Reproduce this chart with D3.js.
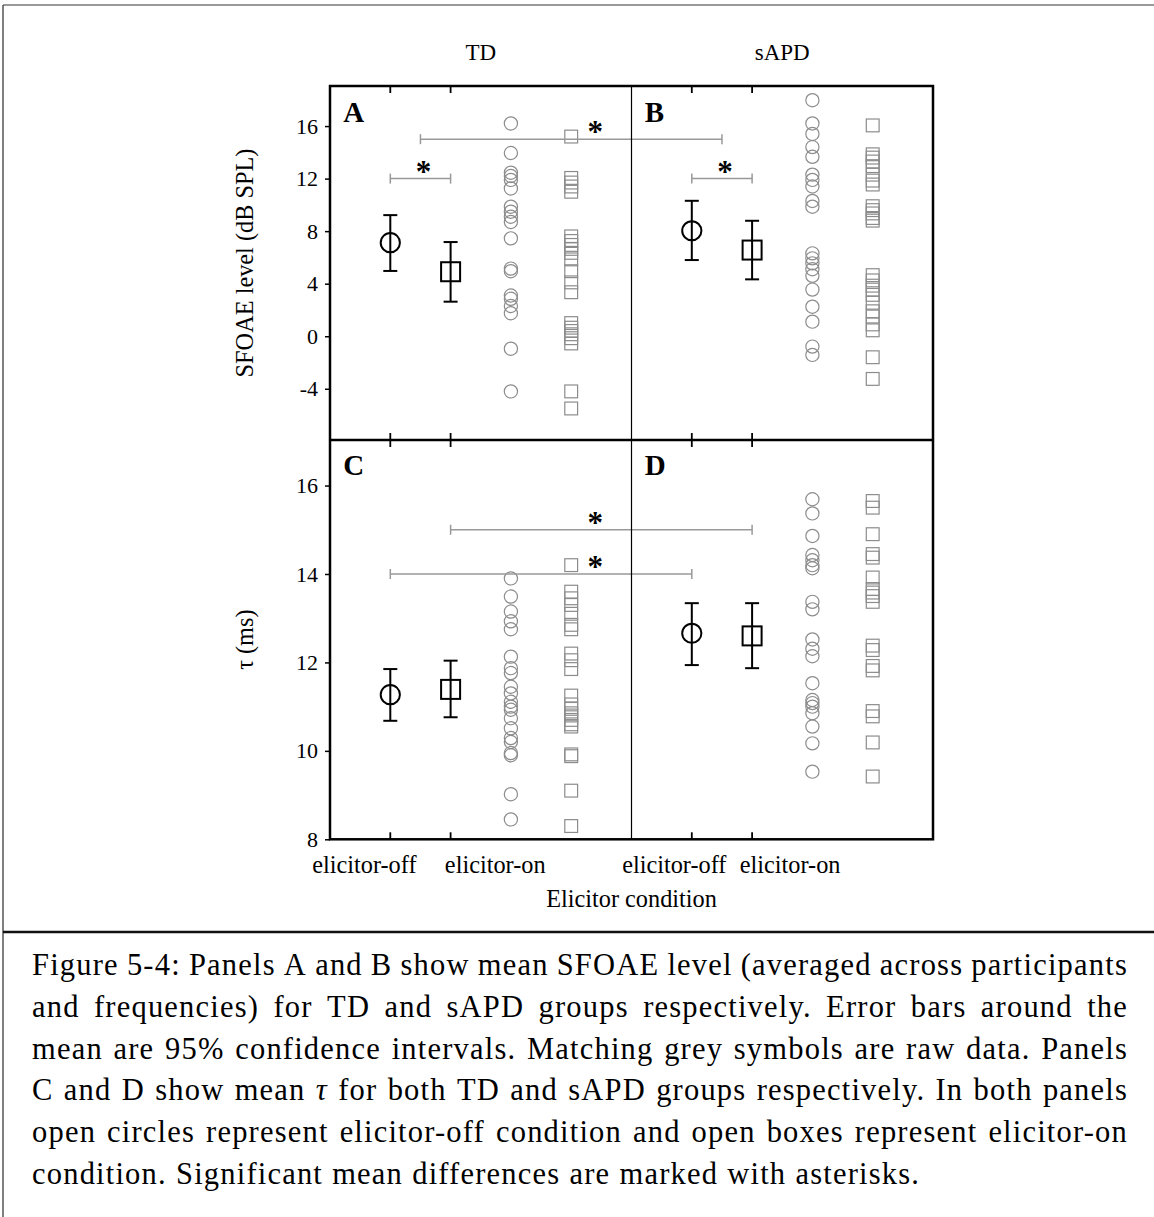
<!DOCTYPE html>
<html>
<head>
<meta charset="utf-8">
<script src="https://cdn.jsdelivr.net/npm/d3@7"></script>
<style>
  body { margin: 0; background: #fff; }
  svg { display: block; }
</style>
</head>
<body>
<script>
// ---- data ---------------------------------------------------------------
const groups = ["TD", "sAPD"];
const conditions = ["elicitor-off", "elicitor-on"];
const panelLetters = ["A", "B", "C", "D"];

const levelTicks = [-4, 0, 4, 8, 12, 16];
const tauTicks = [8, 10, 12, 14, 16];

// group means (TD, sAPD) with 95% confidence limits [low, high]
const meanLevelOff = [7.12, 8.03];
const ciLevelOff = [[4.97, 9.22], [5.80, 10.31]];
const meanLevelOn = [4.91, 6.56];
const ciLevelOn = [[2.63, 7.17], [4.33, 8.79]];
const meanTauOff = [11.27, 12.66];
const ciTauOff = [[10.68, 11.85], [11.94, 13.34]];
const meanTauOn = [11.39, 12.60];
const ciTauOn = [[10.76, 12.04], [11.87, 13.34]];

// individual participants
const rawLevelOffTD = [16.2, 13.95, 12.45, 12.2, 11.9, 11.25, 9.86, 9.48, 9.1, 8.7, 7.45, 5.15, 4.95, 3.1, 2.85, 2.3, 1.75, -0.95, -4.2];
const rawLevelOnTD = [15.2, 12.05, 11.7, 11.4, 11.0, 7.6, 7.25, 6.95, 6.65, 6.35, 5.85, 4.95, 4.1, 3.35, 1.0, 0.65, 0.4, 0.15, -0.15, -0.55, -4.2, -5.5];
const rawLevelOffSAPD = [17.97, 16.2, 15.4, 14.4, 13.66, 12.3, 11.9, 11.4, 10.3, 9.86, 6.31, 5.93, 5.55, 5.1, 4.6, 3.55, 2.25, 1.11, -0.79, -1.42];
const rawLevelOnSAPD = [16.05, 13.85, 13.6, 13.3, 12.95, 12.3, 11.85, 11.55, 9.9, 9.6, 9.35, 9.0, 8.8, 4.65, 4.25, 3.85, 3.55, 3.15, 2.55, 1.9, 1.5, 0.9, 0.45, -1.6, -3.25];
const rawTauOffTD = [13.9, 13.49, 13.15, 12.93, 12.75, 12.13, 11.87, 11.76, 11.45, 11.3, 11.11, 11.0, 10.93, 10.74, 10.51, 10.29, 10.2, 9.95, 9.9, 9.02, 8.45];
const rawTauOnTD = [14.2, 13.6, 13.45, 13.3, 13.1, 12.85, 12.75, 12.2, 12.05, 11.85, 11.25, 11.05, 10.95, 10.85, 10.8, 10.7, 10.6, 10.55, 9.92, 9.88, 9.1, 8.3];
const rawTauOffSAPD = [15.69, 15.37, 14.86, 14.43, 14.31, 14.2, 14.13, 13.37, 13.2, 12.52, 12.31, 12.14, 11.53, 11.15, 11.08, 11.0, 10.85, 10.55, 10.17, 9.53];
const rawTauOnSAPD = [15.65, 15.5, 14.9, 14.45, 14.37, 13.92, 13.66, 13.58, 13.5, 13.37, 12.38, 12.28, 11.92, 11.82, 10.9, 10.78, 10.19, 9.42];

// significance brackets: slot range, height, where the asterisk sits
const levelBrackets = [
  { from: 1, to: 2, value: 12, star: 1.55 },
  { from: 6, to: 7, value: 12, star: 6.55 },
  { from: 1.5, to: 6.5, value: 15, star: 4.4 }
];
const tauBrackets = [
  { from: 2, to: 7, value: 15, star: 4.4 },
  { from: 1, to: 6, value: 14, star: 4.4 }
];

const captionLines = [
  "Figure 5-4: Panels A and B show mean SFOAE level (averaged across participants",
  "and frequencies) for TD and sAPD groups respectively.  Error bars around the",
  "mean are 95% confidence intervals.  Matching grey symbols are raw data.  Panels",
  "C and D show mean τ for both TD and sAPD groups respectively. In both panels",
  "open circles represent elicitor-off condition and open boxes represent elicitor-on",
  "condition.  Significant mean differences are marked with asterisks."
];

// ---- layout -------------------------------------------------------------
const W = 1154, H = 1217;
const plotL = 330, plotR = 933, plotT = 86, plotM = 440, plotB = 839.3;
const serif = "'Liberation Serif', 'Times New Roman', serif";
const grey = "#8c8c8c";
const labelSize = 24.3;

const svg = d3.select("body").append("svg").attr("width", W).attr("height", H);

// shared slot axis: TD in slots 1-4, divider at 5, sAPD in slots 6-9
const x = d3.scaleLinear().domain([0, 10]).range([plotL, plotR]);
const yLevel = d3.scaleLinear().domain([-7.9, 19.05]).range([plotM, plotT]);
const yTau = d3.scaleLinear().domain([8, 17.03]).range([plotB, plotM]);

// figure box and caption rule
svg.append("line").attr("x1", 3).attr("x2", W).attr("y1", 5).attr("y2", 5)
  .attr("stroke", "#777").attr("stroke-width", 1.5);
svg.append("line").attr("x1", 3).attr("x2", 3).attr("y1", 5).attr("y2", H)
  .attr("stroke", "#555").attr("stroke-width", 1.5);
svg.append("line").attr("x1", 3).attr("x2", W).attr("y1", 932).attr("y2", 932)
  .attr("stroke", "#111").attr("stroke-width", 2.5);

// group titles
groups.forEach((g, i) => {
  const c = (x(1 + 5 * i) + x(4 + 5 * i)) / 2;
  svg.append("text").attr("x", c).attr("y", 60).attr("text-anchor", "middle")
    .attr("font-family", serif).attr("font-size", 23).text(g);
});

// y axes
function yAxis(scale, ticks) {
  const g = svg.append("g").attr("transform", `translate(${plotL},0)`)
    .call(d3.axisLeft(scale).tickValues(ticks).tickSize(5).tickPadding(7).tickFormat(d => String(d)));
  g.select(".domain").remove();
  g.selectAll(".tick line").attr("stroke", "#000").attr("stroke-width", 1.5);
  g.selectAll("text").attr("font-family", serif).attr("font-size", 22).attr("fill", "#000");
}
yAxis(yLevel, levelTicks);
yAxis(yTau, tauTicks);

// inward x ticks on every horizontal edge
const tickSlots = [1, 2, 6, 7];
[[plotT, 1], [plotM, -1], [plotM, 1], [plotB, -1]].forEach(([yy, dir]) => {
  svg.append("g").selectAll("line").data(tickSlots).join("line")
    .attr("x1", d => x(d)).attr("x2", d => x(d))
    .attr("y1", yy).attr("y2", yy + dir * 7)
    .attr("stroke", "#000").attr("stroke-width", 1.8);
});

// axis titles
svg.append("text").attr("transform", `translate(253,${(plotT + plotM) / 2}) rotate(-90)`)
  .attr("text-anchor", "middle").attr("font-family", serif).attr("font-size", labelSize)
  .text("SFOAE level (dB SPL)");
svg.append("text").attr("transform", `translate(253,${(plotM + plotB) / 2}) rotate(-90)`)
  .attr("text-anchor", "middle").attr("font-family", serif).attr("font-size", labelSize)
  .text("τ (ms)");

// condition labels under the lower panels
const conditionLabelSlots = [0.57, 2.74, 5.71, 7.63];
conditionLabelSlots.forEach((s, i) => {
  svg.append("text").attr("x", x(s)).attr("y", 873).attr("text-anchor", "middle")
    .attr("font-family", serif).attr("font-size", labelSize).text(conditions[i % 2]);
});
svg.append("text").attr("x", x(5)).attr("y", 907).attr("text-anchor", "middle")
  .attr("font-family", serif).attr("font-size", labelSize).text("Elicitor condition");

// one panel: raw columns, then means with confidence bars
function drawPanel(scale, base, mOff, cOff, mOn, cOn, rawOff, rawOn) {
  const g = svg.append("g");
  g.selectAll("circle.raw").data(rawOff).join("circle")
    .attr("cx", x(base + 2)).attr("cy", d => scale(d)).attr("r", 6.6)
    .attr("fill", "none").attr("stroke", grey).attr("stroke-width", 1.2);
  g.selectAll("rect.raw").data(rawOn).join("rect")
    .attr("x", x(base + 3) - 6.4).attr("y", d => scale(d) - 6.4)
    .attr("width", 12.8).attr("height", 12.8)
    .attr("fill", "none").attr("stroke", grey).attr("stroke-width", 1.2);

  [[base, mOff, cOff], [base + 1, mOn, cOn]].forEach(([slot, m, ci]) => {
    const cx = x(slot);
    g.append("line").attr("x1", cx).attr("x2", cx).attr("y1", scale(ci[0])).attr("y2", scale(ci[1]))
      .attr("stroke", "#000").attr("stroke-width", 2);
    ci.forEach(v => g.append("line").attr("x1", cx - 7).attr("x2", cx + 7)
      .attr("y1", scale(v)).attr("y2", scale(v)).attr("stroke", "#000").attr("stroke-width", 2));
  });
  g.append("circle").attr("cx", x(base)).attr("cy", scale(mOff)).attr("r", 9.6)
    .attr("fill", "none").attr("stroke", "#000").attr("stroke-width", 2);
  g.append("rect").attr("x", x(base + 1) - 9.5).attr("y", scale(mOn) - 9.5)
    .attr("width", 19).attr("height", 19)
    .attr("fill", "none").attr("stroke", "#000").attr("stroke-width", 2);
}

drawPanel(yLevel, 1, meanLevelOff[0], ciLevelOff[0], meanLevelOn[0], ciLevelOn[0], rawLevelOffTD, rawLevelOnTD);
drawPanel(yLevel, 6, meanLevelOff[1], ciLevelOff[1], meanLevelOn[1], ciLevelOn[1], rawLevelOffSAPD, rawLevelOnSAPD);
drawPanel(yTau, 1, meanTauOff[0], ciTauOff[0], meanTauOn[0], ciTauOn[0], rawTauOffTD, rawTauOnTD);
drawPanel(yTau, 6, meanTauOff[1], ciTauOff[1], meanTauOn[1], ciTauOn[1], rawTauOffSAPD, rawTauOnSAPD);

// significance brackets
function drawBrackets(scale, list) {
  list.forEach(b => {
    const yy = scale(b.value);
    svg.append("line").attr("x1", x(b.from)).attr("x2", x(b.to)).attr("y1", yy).attr("y2", yy)
      .attr("stroke", "#999").attr("stroke-width", 1.5);
    [b.from, b.to].forEach(s => svg.append("line").attr("x1", x(s)).attr("x2", x(s))
      .attr("y1", yy - 5).attr("y2", yy + 5).attr("stroke", "#999").attr("stroke-width", 1.5));
    svg.append("text").attr("x", x(b.star)).attr("y", yy + 3).attr("text-anchor", "middle")
      .attr("font-family", serif).attr("font-weight", "bold").attr("font-size", 31).text("*");
  });
}
drawBrackets(yLevel, levelBrackets);
drawBrackets(yTau, tauBrackets);

// frame and dividers
svg.append("rect").attr("x", plotL).attr("y", plotT).attr("width", plotR - plotL).attr("height", plotB - plotT)
  .attr("fill", "none").attr("stroke", "#000").attr("stroke-width", 2.5);
svg.append("line").attr("x1", plotL).attr("x2", plotR).attr("y1", plotM).attr("y2", plotM)
  .attr("stroke", "#000").attr("stroke-width", 2.5);
svg.append("line").attr("x1", x(5)).attr("x2", x(5)).attr("y1", plotT).attr("y2", plotB)
  .attr("stroke", "#000").attr("stroke-width", 1.2);

// panel letters
panelLetters.forEach((p, i) => {
  svg.append("text").attr("x", x(i % 2 === 0 ? 0.22 : 5.22)).attr("y", i < 2 ? 122 : 475)
    .attr("font-family", serif).attr("font-weight", "bold").attr("font-size", 29).text(p);
});

// caption, justified line by line
const capLeft = 32, capRight = 1128, capBase = 975, capStep = 41.8, capSize = 30.5, capTrack = 1.2;
captionLines.forEach((line, li) => {
  const words = line.split(/\s+/);
  const t = svg.append("g");
  const nodes = words.map(w => t.append("text").attr("y", capBase + li * capStep)
    .attr("font-family", serif).attr("font-size", capSize).attr("letter-spacing", capTrack)
    .attr("font-style", w === "τ" ? "italic" : "normal").text(w));
  const widths = nodes.map(n => n.node().getComputedTextLength());
  const total = d3.sum(widths);
  const last = li === captionLines.length - 1;
  const gap = last ? capSize * 0.3 : (capRight - capLeft - total) / (words.length - 1);
  let cx = capLeft;
  nodes.forEach((n, i) => { n.attr("x", cx); cx += widths[i] + gap; });
});
</script>
</body>
</html>
